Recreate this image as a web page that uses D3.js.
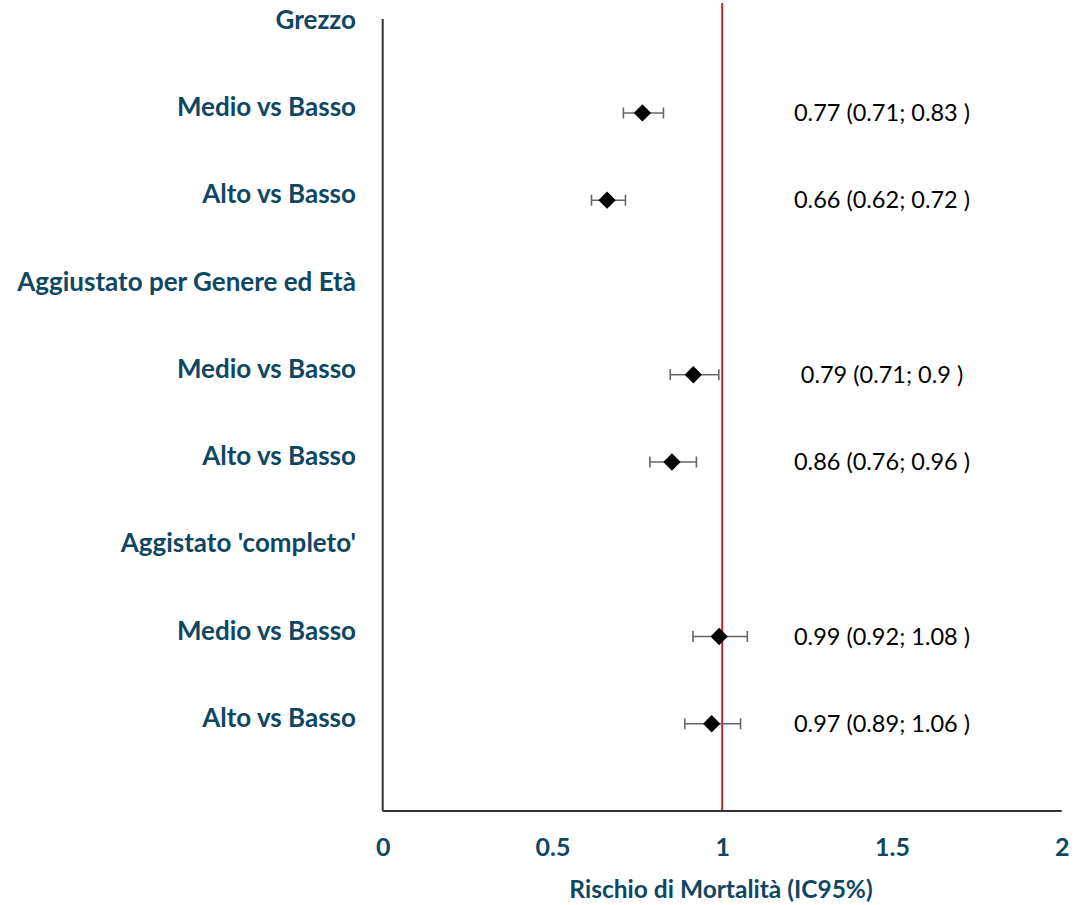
<!DOCTYPE html>
<html>
<head>
<meta charset="utf-8">
<script src="https://cdn.jsdelivr.net/npm/d3@7"></script>
<style>
  html, body { margin: 0; padding: 0; background: #fff; }
  svg { display: block; }
</style>
</head>
<body>
<svg id="chart" width="1078" height="905"></svg>
<script>
// ---- data ----
const rowLabels = ["Grezzo", "Medio vs Basso", "Alto vs Basso",
  "Aggiustato per Genere ed Età", "Medio vs Basso", "Alto vs Basso",
  "Aggistato 'completo'", "Medio vs Basso", "Alto vs Basso"];
const headerRows = [0, 3, 6];
const pointRows = [1, 2, 4, 5, 7, 8];
const estimates = [0.765, 0.661, 0.915, 0.852, 0.991, 0.969];
const lowerCI   = [0.709, 0.615, 0.847, 0.787, 0.914, 0.890];
const upperCI   = [0.827, 0.715, 0.990, 0.924, 1.074, 1.054];
const valueLabels = ["0.77 (0.71; 0.83 )", "0.66 (0.62; 0.72 )",
  "0.79 (0.71; 0.9 )", "0.86 (0.76; 0.96 )",
  "0.99 (0.92; 1.08 )", "0.97 (0.89; 1.06 )"];
const xTicks = [0, 0.5, 1, 1.5, 2];
const xTickLabels = ["0", "0.5", "1", "1.5", "2"];
const referenceValue = 1;
const axisTitle = "Rischio di Mortalità (IC95%)";

// ---- layout ----
const svg = d3.select("#chart");
const teal = "#0f4763";
const font = "Lato, 'Open Sans', sans-serif";

const x = d3.scaleLinear().domain([0, 2]).range([382.7, 1061.7]);
const y = d3.scaleLinear().domain([0, 9]).range([25.7, 811]);

// y axis line
svg.append("line")
  .attr("x1", x(0)).attr("x2", x(0))
  .attr("y1", 19).attr("y2", y(9))
  .attr("stroke", "#333").attr("stroke-width", 2);

// reference line
svg.append("line")
  .attr("x1", x(referenceValue)).attr("x2", x(referenceValue))
  .attr("y1", 3).attr("y2", y(9))
  .attr("stroke", "#c0282a").attr("stroke-width", 2);

// x axis
const xAxis = d3.axisBottom(x).tickValues(xTicks)
  .tickFormat((d, i) => xTickLabels[i]).tickSize(0).tickPadding(0);
const gx = svg.append("g").attr("transform", `translate(0,${y(9)})`).call(xAxis);
gx.select(".domain").attr("stroke", "#333").attr("stroke-width", 2.2)
  .attr("d", `M${x(0)},0H${x(2)}`);
gx.selectAll(".tick text")
  .attr("y", 36).attr("dy", "0.35em")
  .attr("fill", teal)
  .style("font-family", font).style("font-weight", "bold").style("font-size", "25px");

// axis title
svg.append("text")
  .attr("x", 721).attr("y", 889).attr("dy", "0.35em")
  .attr("text-anchor", "middle")
  .attr("fill", teal)
  .style("font-family", font).style("font-weight", "bold").style("font-size", "24.5px")
  .text(axisTitle);

// row labels
svg.append("g").selectAll("text").data(rowLabels).join("text")
  .attr("x", 356)
  .attr("y", (d, i) => y(i) - 6)
  .attr("dy", "0.35em")
  .attr("text-anchor", "end")
  .attr("fill", teal)
  .style("font-family", font).style("font-weight", "bold").style("font-size", "26px")
  .text(d => d);

// error bars
const pts = pointRows.map((r, i) => ({ r, est: estimates[i], lo: lowerCI[i], hi: upperCI[i], lab: valueLabels[i] }));
const eb = svg.append("g").selectAll("g").data(pts).join("g");
eb.append("line")
  .attr("x1", d => x(d.lo)).attr("x2", d => x(d.hi))
  .attr("y1", d => y(d.r)).attr("y2", d => y(d.r))
  .attr("stroke", "#666").attr("stroke-width", 1.6);
eb.append("line")
  .attr("x1", d => x(d.lo)).attr("x2", d => x(d.lo))
  .attr("y1", d => y(d.r) - 5.5).attr("y2", d => y(d.r) + 5.5)
  .attr("stroke", "#666").attr("stroke-width", 1.6);
eb.append("line")
  .attr("x1", d => x(d.hi)).attr("x2", d => x(d.hi))
  .attr("y1", d => y(d.r) - 5.5).attr("y2", d => y(d.r) + 5.5)
  .attr("stroke", "#666").attr("stroke-width", 1.6);

// diamonds
const diamond = d3.symbol().type(d3.symbolSquare).size(150);
svg.append("g").selectAll("path").data(pts).join("path")
  .attr("d", diamond)
  .attr("transform", d => `translate(${x(d.est)},${y(d.r)}) rotate(45)`)
  .attr("fill", "#000");

// value labels
svg.append("g").selectAll("text").data(pts).join("text")
  .attr("x", 882)
  .attr("y", d => y(d.r))
  .attr("dy", "0.35em")
  .attr("text-anchor", "middle")
  .attr("fill", "#000")
  .style("font-family", font).style("font-size", "23.5px")
  .text(d => d.lab);
</script>
</body>
</html>
